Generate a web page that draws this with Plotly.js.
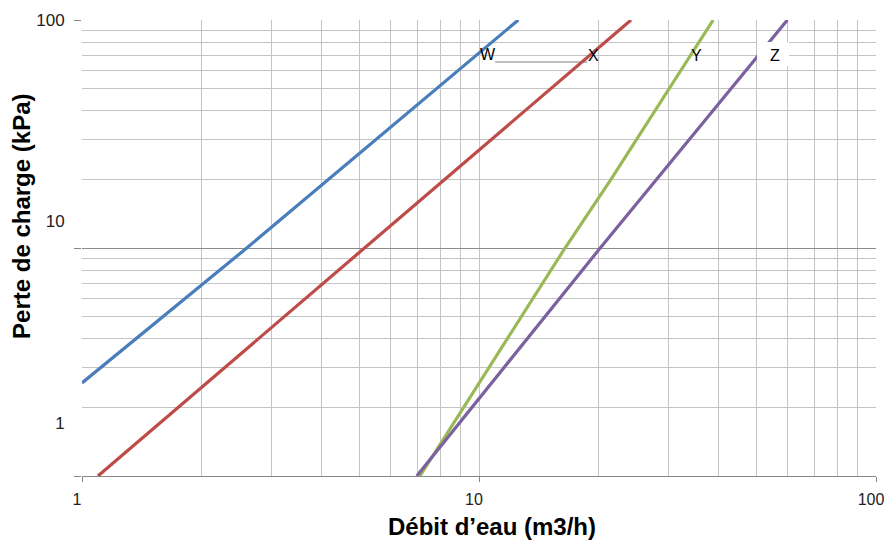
<!DOCTYPE html>
<html>
<head>
<meta charset="utf-8">
<script src="https://cdn.plot.ly/plotly-3.0.1.min.js"></script>
<style>html,body{margin:0;padding:0;background:#fff;}#chart{width:886px;height:542px;}</style>
</head>
<body>
<div id="chart"></div>
<script>
// Series values (flow m3/h, pressure drop kPa)
const seriesNames = ["W", "X", "Y", "Z"];
const flowW = [1.0, 2.6, 12.56];
const dpW   = [2.56, 10, 100];
const flowX = [1.097, 3.54, 24.15];
const dpX   = [1.0, 5.74, 100];
const flowY = [7.10, 16.47, 21.5, 38.9];
const dpY   = [1.0, 10, 20, 100];
const flowZ = [6.97, 20.2, 59.8];
const dpZ   = [1.0, 10, 100];
const colors = ["#4A7EBB", "#BE4B48", "#98B954", "#7D60A0"];

const majorTicks = [1, 10, 100];
const majorTickText = ["1", "10", "100"];
const minorTicks = [2,3,4,5,6,7,8,9,20,30,40,50,60,70,80,90];
const xTitle = "Débit d’eau (m3/h)";
const yTitle = "Perte de charge (kPa)";

const flows = [flowW, flowX, flowY, flowZ];
const dps = [dpW, dpX, dpY, dpZ];

const traces = seriesNames.map((n, i) => ({
  x: flows[i], y: dps[i], name: n, type: "scatter", mode: "lines",
  line: {color: colors[i], width: 3.2}, hoverinfo: "skip"
}));

const fontFam = "Arial, 'Liberation Sans', sans-serif";

// label positions (paper coords) for the series names
const lblX = [0.5113, 0.6436, 0.7740, 0.8728];
const lblY = [0.9254, 0.9211, 0.9232, 0.9211];
const boxes = [[0.4912,0.5302],[0.6315,0.6617],[0.7494,0.7935],[0.8501,0.8904]];

const shapes = boxes.map((b, i) => ({
  type: "rect", xref: "paper", yref: "paper",
  x0: b[0], x1: b[1], y0: 0.8990, y1: 0.9518,
  fillcolor: "#ffffff", line: {width: 0},
  layer: i === 3 ? "above" : "between"
}));
shapes.push({type: "line", xref: "paper", yref: "paper",
  x0: 0.5202, x1: 0.6360, y0: 0.9079, y1: 0.9079,
  line: {color: "#A8A8A8", width: 1.5}, layer: "between"});

const annotations = seriesNames.map((n, i) => ({
  text: n, xref: "paper", yref: "paper", x: lblX[i], y: lblY[i],
  showarrow: false, xanchor: "center", yanchor: "middle",
  font: {family: fontFam, size: 16, color: "#000"}
}));
// axis titles (placed like the reference, off-centre)
annotations.push({text: "<b>" + xTitle + "</b>", xref: "paper", yref: "paper",
  x: 0.5164, y: -0.1118, showarrow: false, xanchor: "center", yanchor: "middle",
  font: {family: fontFam, size: 24, color: "#000"}});
annotations.push({text: "<b>" + yTitle + "</b>", xref: "paper", yref: "paper",
  x: -0.0756, y: 0.5702, showarrow: false, xanchor: "center", yanchor: "middle",
  textangle: -90, font: {family: fontFam, size: 24, color: "#000"}});

const layout = {
  width: 886, height: 542,
  margin: {l: 82, r: 10, t: 20, b: 66},
  paper_bgcolor: "#fff", plot_bgcolor: "#fff",
  showlegend: false,
  xaxis: {
    type: "log", range: [0, 2],
    tickmode: "array", tickvals: majorTicks, ticktext: majorTickText,
    ticks: "outside", ticklen: 5, tickcolor: "#868686",
    ticklabelstandoff: 4, ticklabelshift: -5, ticklabeloverflow: "allow",
    tickfont: {family: fontFam, size: 16, color: "#222"},
    showgrid: true, gridcolor: "#C4C4C4", gridwidth: 1,
    minor: {tickmode: "array", tickvals: minorTicks, showgrid: true, gridcolor: "#C4C4C4", gridwidth: 1, ticks: ""},
    showline: true, linecolor: "#868686", linewidth: 1,
    zeroline: false
  },
  yaxis: {
    type: "log", range: [0, 2],
    tickmode: "array", tickvals: majorTicks, ticktext: majorTickText,
    showticklabels: false,
    ticks: "outside", ticklen: 7, tickcolor: "#868686",
    showgrid: true, gridcolor: "#8C8C8C", gridwidth: 1,
    minor: {tickmode: "array", tickvals: minorTicks, showgrid: true, gridcolor: "#C4C4C4", gridwidth: 1, ticks: ""},
    showline: false, zeroline: false
  },
  yaxis2: {
    type: "log", range: [-0.263, 2], overlaying: "y", side: "left",
    tickmode: "array", tickvals: majorTicks, ticktext: majorTickText,
    ticks: "outside", ticklen: 13, tickcolor: "rgba(0,0,0,0)",
    ticklabeloverflow: "allow",
    tickfont: {family: fontFam, size: 17, color: "#222"},
    showgrid: false, showline: false, zeroline: false, fixedrange: true
  },
  shapes: shapes,
  annotations: annotations
};

// invisible trace to activate the label axis
traces.unshift({x: [1], y: [1], yaxis: "y2", mode: "markers", marker: {opacity: 0}, hoverinfo: "skip", showlegend: false});

Plotly.newPlot("chart", traces, layout, {staticPlot: true, displayModeBar: false});
</script>
</body>
</html>
